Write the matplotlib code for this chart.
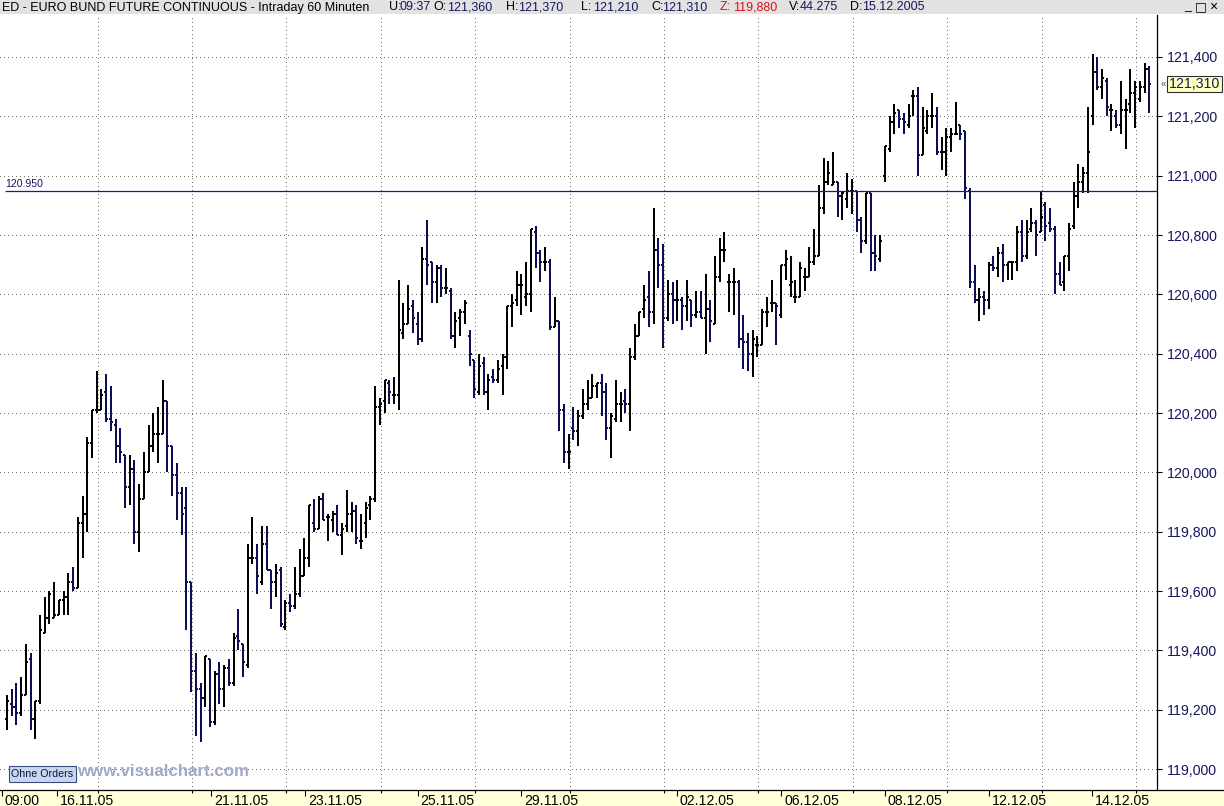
import matplotlib
matplotlib.use("Agg")
import matplotlib.pyplot as plt
from matplotlib.collections import LineCollection
from matplotlib.patches import Rectangle
from matplotlib.lines import Line2D
import numpy as np

plt.rcParams['font.family'] = ['Liberation Sans', 'DejaVu Sans']

# --- OHLC, one bar per hour ---
highs = [
    119.25, 119.27, 119.29, 119.31, 119.42, 119.39, 119.23, 119.52, 119.58, 119.60,
    119.63, 119.57, 119.60, 119.66, 119.68, 119.85, 119.92, 120.12, 120.21, 120.34,
    120.28, 120.33, 120.29, 120.18, 120.15, 120.06, 120.06, 120.04, 119.96, 120.07,
    120.16, 120.20, 120.22, 120.31, 120.24, 120.09, 120.03, 119.95, 119.95, 119.63,
    119.39, 119.29, 119.38, 119.37, 119.33, 119.36, 119.35, 119.37, 119.46, 119.54,
    119.42, 119.76, 119.85, 119.76, 119.82, 119.82, 119.67, 119.69, 119.68, 119.57,
    119.59, 119.68, 119.74, 119.78, 119.89, 119.91, 119.92, 119.93, 119.86, 119.87,
    119.89, 119.83, 119.94, 119.90, 119.89, 119.86, 119.90, 119.92, 120.29, 120.25,
    120.31, 120.31, 120.32, 120.65, 120.57, 120.63, 120.58, 120.54, 120.76, 120.85,
    120.71, 120.70, 120.70, 120.69, 120.62, 120.54, 120.55, 120.58, 120.48, 120.38,
    120.40, 120.39, 120.33, 120.35, 120.38, 120.40, 120.56, 120.60, 120.68, 120.67,
    120.71, 120.82, 120.83, 120.75, 120.76, 120.72, 120.59, 120.51, 120.23, 120.13,
    120.22, 120.21, 120.28, 120.31, 120.33, 120.30, 120.33, 120.30, 120.20, 120.31,
    120.27, 120.28, 120.42, 120.50, 120.54, 120.63, 120.68, 120.89, 120.79, 120.77,
    120.65, 120.64, 120.65, 120.59, 120.65, 120.58, 120.61, 120.61, 120.67, 120.58,
    120.73, 120.79, 120.81, 120.67, 120.69, 120.65, 120.53, 120.47, 120.48, 120.46,
    120.55, 120.59, 120.65, 120.57, 120.70, 120.75, 120.73, 120.65, 120.71, 120.69,
    120.76, 120.82, 120.97, 121.06, 121.05, 121.08, 120.98, 120.95, 121.01, 120.99,
    120.95, 120.86, 120.94, 120.94, 120.80, 120.80, 121.10, 121.20, 121.24, 121.22,
    121.21, 121.24, 121.29, 121.30, 121.23, 121.22, 121.28, 121.23, 121.13, 121.16,
    121.16, 121.25, 121.17, 121.15, 120.96, 120.70, 120.62, 120.61, 120.71, 120.73,
    120.76, 120.77, 120.71, 120.71, 120.83, 120.85, 120.85, 120.89, 120.85, 120.95,
    120.91, 120.89, 120.83, 120.71, 120.73, 120.84, 120.98, 121.04, 121.03, 121.23,
    121.41, 121.40, 121.36, 121.33, 121.24, 121.22, 121.32, 121.26, 121.36, 121.32,
    121.32, 121.38, 121.37,
]
lows = [
    119.13, 119.18, 119.15, 119.18, 119.25, 119.13, 119.10, 119.22, 119.46, 119.49,
    119.51, 119.52, 119.52, 119.52, 119.60, 119.61, 119.71, 119.80, 120.05, 120.20,
    120.21, 120.17, 120.14, 120.03, 120.03, 119.88, 119.89, 119.76, 119.73, 119.91,
    120.00, 120.07, 120.03, 120.13, 120.00, 119.92, 119.84, 119.79, 119.47, 119.26,
    119.11, 119.09, 119.21, 119.14, 119.15, 119.22, 119.21, 119.28, 119.28, 119.40,
    119.31, 119.34, 119.69, 119.59, 119.62, 119.67, 119.54, 119.58, 119.48, 119.47,
    119.53, 119.54, 119.58, 119.65, 119.68, 119.80, 119.81, 119.84, 119.77, 119.80,
    119.79, 119.72, 119.80, 119.80, 119.76, 119.74, 119.78, 119.84, 119.90, 120.16,
    120.20, 120.23, 120.23, 120.21, 120.45, 120.50, 120.47, 120.43, 120.44, 120.63,
    120.57, 120.57, 120.59, 120.60, 120.45, 120.42, 120.46, 120.50, 120.36, 120.25,
    120.26, 120.26, 120.21, 120.30, 120.30, 120.26, 120.35, 120.49, 120.56, 120.53,
    120.56, 120.54, 120.69, 120.64, 120.68, 120.48, 120.49, 120.14, 120.03, 120.01,
    120.11, 120.09, 120.18, 120.21, 120.25, 120.25, 120.19, 120.11, 120.05, 120.17,
    120.17, 120.20, 120.14, 120.38, 120.46, 120.52, 120.49, 120.50, 120.62, 120.42,
    120.51, 120.50, 120.51, 120.48, 120.51, 120.49, 120.52, 120.52, 120.40, 120.44,
    120.50, 120.64, 120.71, 120.54, 120.53, 120.42, 120.35, 120.34, 120.32, 120.39,
    120.43, 120.49, 120.54, 120.43, 120.52, 120.65, 120.59, 120.57, 120.59, 120.61,
    120.66, 120.70, 120.73, 120.87, 120.97, 120.97, 120.86, 120.85, 120.89, 120.87,
    120.81, 120.74, 120.77, 120.68, 120.68, 120.71, 120.98, 121.08, 121.14, 121.16,
    121.14, 121.16, 121.20, 121.00, 121.07, 121.14, 121.16, 121.07, 121.02, 121.00,
    121.08, 121.14, 121.12, 120.92, 120.62, 120.57, 120.51, 120.53, 120.55, 120.68,
    120.66, 120.64, 120.65, 120.65, 120.68, 120.71, 120.72, 120.81, 120.73, 120.81,
    120.78, 120.81, 120.60, 120.63, 120.61, 120.68, 120.82, 120.89, 120.94, 120.94,
    121.17, 121.29, 121.26, 121.20, 121.15, 121.16, 121.14, 121.09, 121.21, 121.16,
    121.25, 121.28, 121.21,
]
opens = [
    119.17, 119.22, 119.21, 119.19, 119.25, 119.37, 119.17, 119.23, 119.46, 119.51,
    119.51, 119.52, 119.57, 119.58, 119.63, 119.61, 119.83, 119.86, 120.10, 120.21,
    120.21, 120.27, 120.18, 120.16, 120.09, 120.06, 119.95, 120.01, 119.80, 119.91,
    120.00, 120.09, 120.13, 120.13, 120.24, 120.09, 119.99, 119.93, 119.88, 119.63,
    119.33, 119.27, 119.24, 119.37, 119.16, 119.32, 119.27, 119.34, 119.29, 119.45,
    119.42, 119.35, 119.71, 119.71, 119.63, 119.76, 119.67, 119.63, 119.67, 119.48,
    119.56, 119.55, 119.59, 119.65, 119.71, 119.83, 119.81, 119.91, 119.85, 119.84,
    119.86, 119.79, 119.82, 119.86, 119.87, 119.77, 119.83, 119.89, 119.91, 120.22,
    120.24, 120.30, 120.26, 120.26, 120.47, 120.50, 120.56, 120.50, 120.45, 120.72,
    120.71, 120.64, 120.69, 120.62, 120.61, 120.46, 120.52, 120.54, 120.46, 120.38,
    120.27, 120.37, 120.27, 120.32, 120.31, 120.36, 120.39, 120.56, 120.58, 120.63,
    120.59, 120.60, 120.81, 120.74, 120.71, 120.71, 120.49, 120.51, 120.21, 120.07,
    120.15, 120.14, 120.19, 120.23, 120.25, 120.29, 120.30, 120.27, 120.15, 120.18,
    120.23, 120.24, 120.23, 120.39, 120.46, 120.55, 120.59, 120.54, 120.75, 120.70,
    120.52, 120.60, 120.58, 120.58, 120.56, 120.58, 120.53, 120.54, 120.52, 120.55,
    120.50, 120.66, 120.75, 120.64, 120.64, 120.64, 120.45, 120.44, 120.40, 120.43,
    120.43, 120.54, 120.57, 120.57, 120.53, 120.70, 120.63, 120.59, 120.59, 120.66,
    120.66, 120.71, 120.73, 120.89, 120.98, 120.97, 120.98, 120.93, 120.92, 120.95,
    120.95, 120.85, 120.78, 120.94, 120.74, 120.72, 121.00, 121.09, 121.18, 121.22,
    121.19, 121.17, 121.27, 121.27, 121.07, 121.15, 121.20, 121.20, 121.08, 121.08,
    121.13, 121.14, 121.17, 121.15, 120.95, 120.64, 120.58, 120.59, 120.58, 120.70,
    120.69, 120.74, 120.70, 120.71, 120.71, 120.81, 120.73, 120.82, 120.84, 120.81,
    120.90, 120.84, 120.82, 120.67, 120.64, 120.73, 120.83, 120.93, 120.98, 121.01,
    121.20, 121.35, 121.30, 121.32, 121.22, 121.20, 121.17, 121.22, 121.24, 121.28,
    121.26, 121.30, 121.36,
]
closes = [
    119.23, 119.21, 119.19, 119.25, 119.36, 119.17, 119.23, 119.47, 119.51, 119.59,
    119.52, 119.57, 119.58, 119.63, 119.61, 119.83, 119.86, 120.10, 120.21, 120.21,
    120.26, 120.18, 120.17, 120.09, 120.07, 119.95, 120.01, 119.80, 119.91, 120.00,
    120.09, 120.13, 120.13, 120.24, 120.09, 119.99, 119.93, 119.86, 119.63, 119.33,
    119.27, 119.24, 119.38, 119.16, 119.32, 119.27, 119.34, 119.29, 119.44, 119.43,
    119.36, 119.71, 119.71, 119.65, 119.76, 119.67, 119.63, 119.66, 119.49, 119.56,
    119.55, 119.59, 119.65, 119.71, 119.89, 119.81, 119.91, 119.84, 119.85, 119.86,
    119.79, 119.81, 119.86, 119.87, 119.78, 119.77, 119.88, 119.91, 120.22, 120.23,
    120.31, 120.27, 120.26, 120.48, 120.50, 120.55, 120.52, 120.45, 120.72, 120.70,
    120.64, 120.69, 120.62, 120.62, 120.46, 120.51, 120.54, 120.57, 120.40, 120.28,
    120.36, 120.27, 120.31, 120.31, 120.35, 120.39, 120.56, 120.57, 120.63, 120.63,
    120.60, 120.82, 120.74, 120.71, 120.71, 120.49, 120.51, 120.21, 120.07, 120.07,
    120.14, 120.19, 120.23, 120.25, 120.29, 120.30, 120.27, 120.15, 120.19, 120.23,
    120.23, 120.23, 120.39, 120.46, 120.54, 120.58, 120.54, 120.75, 120.70, 120.52,
    120.60, 120.58, 120.58, 120.56, 120.59, 120.53, 120.54, 120.52, 120.55, 120.51,
    120.66, 120.75, 120.75, 120.64, 120.64, 120.45, 120.44, 120.40, 120.45, 120.43,
    120.54, 120.54, 120.57, 120.56, 120.70, 120.72, 120.64, 120.59, 120.69, 120.66,
    120.71, 120.73, 120.89, 120.98, 121.01, 120.98, 120.93, 120.94, 120.95, 120.95,
    120.85, 120.78, 120.94, 120.74, 120.73, 120.78, 121.10, 121.18, 121.21, 121.19,
    121.18, 121.20, 121.27, 121.07, 121.16, 121.20, 121.20, 121.08, 121.08, 121.13,
    121.14, 121.14, 121.14, 120.96, 120.64, 120.58, 120.59, 120.58, 120.70, 120.69,
    120.74, 120.70, 120.71, 120.71, 120.81, 120.73, 120.81, 120.84, 120.80, 120.86,
    120.83, 120.82, 120.67, 120.63, 120.73, 120.82, 120.93, 120.98, 121.01, 121.08,
    121.35, 121.30, 121.33, 121.23, 121.22, 121.17, 121.22, 121.22, 121.28, 121.30,
    121.30, 121.36, 121.31,
]

# x-axis: bar index where each date label starts, and the labels
date_pos = [-1.06, 10.5, 43.2, 63.2, 87.0, 109.0, 141.9, 164.0, 186.0, 208.0, 229.9]
date_labels = ['09:00', '16.11.05', '21.11.05', '23.11.05', '25.11.05', '29.11.05',
               '02.12.05', '06.12.05', '08.12.05', '12.12.05', '14.12.05']
grid_x = [19.2 + 20 * k for k in range(12)]
price_ticks = [119.0, 119.2, 119.4, 119.6, 119.8, 120.0, 120.2, 120.4, 120.6, 120.8,
               121.0, 121.2, 121.4]
level_line = 120.95
last_close = 121.31

header = [
    ('ED - EURO BUND FUTURE CONTINUOUS - Intraday 60 Minuten', 'k', 2),
    ('U:', 'k', 389), ('09:37', 'n', 400),
    ('O:', 'k', 433), ('121,360', 'n', 447),
    ('H:', 'k', 506), ('121,370', 'n', 518),
    ('L:', 'k', 581), ('121,210', 'n', 593),
    ('C:', 'k', 651), ('121,310', 'n', 662),
    ('Z:', 'r', 720), ('119,880', 'r', 733),
    ('V:', 'k', 789), ('44.275', 'n', 800),
    ('D:', 'k', 850), ('15.12.2005', 'n', 862),
]

NAVY = '#161660'
BAR_DOWN = '#0e0e52'
W, H = 1224, 806
PX_BAR = 4.72       # pixels per bar
X0 = 7              # pixel x of the first bar
PX_UNIT = 296.67    # pixels per 1.0 of price
Y_REF = 57          # pixel y of 121.4

fig = plt.figure(figsize=(W / 100, H / 100), dpi=100, facecolor='white')
T = fig.dpi_scale_trans


def P(x, y):
    # pixel (from top-left) -> inches for dpi_scale_trans
    return x / 100, (H - y) / 100


def price_at(py):
    return 121.4 - (py - Y_REF) / PX_UNIT


top, bottom, right = 15, 790, 1157
ax = fig.add_axes([0, (H - bottom) / H, right / W, (bottom - top) / H])
ax.set_xlim(-X0 / PX_BAR, (right - X0) / PX_BAR)
ax.set_ylim(price_at(bottom), price_at(top))
ax.set_facecolor('white')

# dotted grid
for gy in price_ticks:
    ax.axhline(gy, color='#707070', lw=0.72, ls=(0, (1, 3)), antialiased=False, zorder=1)
for gx in grid_x:
    ax.axvline(gx, color='#707070', lw=0.72, ls=(0, (1, 3)), antialiased=False, zorder=1)

# OHLC bars
o = np.array(opens); c = np.array(closes)
hi = np.array(highs); lo = np.array(lows)
segs, cols = [], []
for i in range(len(hi)):
    col = 'black' if c[i] >= o[i] else BAR_DOWN
    segs += [[(i, lo[i]), (i, hi[i])],
             [(i - 0.42, o[i]), (i, o[i])],
             [(i, c[i]), (i + 0.42, c[i])]]
    cols += [col] * 3
ax.add_collection(LineCollection(segs, colors=cols, linewidths=1.1,
                                 antialiased=False, zorder=3))

# horizontal level line
lx0 = (5 - X0) / PX_BAR
ax.hlines(level_line, lx0, ax.get_xlim()[1], color='#1c1c88', lw=0.9, zorder=4)
ax.annotate('120.950', xy=(lx0, level_line), xytext=(0, 2), textcoords='offset pixels',
            ha='left', va='bottom', fontsize=7.6, color=NAVY)

# axes styling
for s in ['top', 'left']:
    ax.spines[s].set_visible(False)
ax.spines['right'].set_color('black')
ax.spines['right'].set_linewidth(0.9)
ax.spines['bottom'].set_visible(False)

ax.yaxis.tick_right()
ax.set_yticks(price_ticks)
ax.set_yticklabels([f'{v:.3f}'.replace('.', ',') for v in price_ticks])
ax.tick_params(axis='y', length=3.6, width=0.8, pad=3.4, labelsize=10.2,
               labelcolor=NAVY, color='black')

ax.set_xticks(date_pos)
ax.set_xticklabels([])
ax.set_xticks(grid_x, minor=True)
ax.tick_params(axis='x', which='major', length=4.6, width=0.8, color='black', direction='out')
ax.tick_params(axis='x', which='minor', length=2.4, width=0.8, color='black', direction='out')
for pos, lab in zip(date_pos, date_labels):
    ax.annotate(lab, xy=(pos, 0), xycoords=('data', 'axes fraction'),
                xytext=(3, -4), textcoords='offset pixels', ha='left', va='top',
                fontsize=10.2, color='black', annotation_clip=False)

# header band
fig.add_artist(Rectangle(P(0, 14), W / 100, 14 / 100, transform=T,
                         facecolor='#e2e2e2', edgecolor='none', zorder=0))
cmap = {'k': 'black', 'n': NAVY, 'r': '#e01010'}
for s, cc, xp in header:
    fig.text(*P(xp, 7.5), s, transform=T, fontsize=9.0, color=cmap[cc],
             ha='left', va='center')
fig.text(*P(1188, 6), '_', transform=T, fontsize=9, ha='center', va='center')
fig.text(*P(1201, 7), '\u25a1', transform=T, fontsize=9, ha='center', va='center',
         family=['DejaVu Sans'])
fig.text(*P(1213, 7), '\u00d7', transform=T, fontsize=10, ha='center', va='center')

# bottom date band and its top border
fig.add_artist(Rectangle(P(0, H), W / 100, (H - bottom) / 100, transform=T,
                         facecolor='#ffffd8', edgecolor='none', zorder=0))
fig.add_artist(Line2D([0, W / 100], [(H - bottom) / 100] * 2, transform=T,
                      color='black', lw=0.9, zorder=5))

# last price tag
fig.add_artist(Rectangle(P(1167, 92), 55 / 100, 16 / 100, transform=T,
                         facecolor='#ffffc0', edgecolor='#303030', lw=0.8, zorder=6))
fig.text(*P(1194.5, 84.5), f'{last_close:.3f}'.replace('.', ','), transform=T,
         fontsize=10.2, color=NAVY, ha='center', va='center', zorder=7)
fig.text(*P(1163, 84), '\u00ab', transform=T, fontsize=7, color='#505050',
         ha='center', va='center')

# watermark and order box
fig.add_artist(Rectangle(P(9, 782), 67 / 100, 16 / 100, transform=T,
                         facecolor='#c9d7ee', edgecolor='#3c4c80', lw=0.8, zorder=6))
fig.text(*P(42.5, 774), 'Ohne Orders', transform=T, fontsize=7.7, color='#101040',
         ha='center', va='center', zorder=7)
fig.text(*P(77, 771), 'www.visualchart.com', transform=T, fontsize=12.2,
         fontweight='bold', color='#a2a9c8', ha='left', va='center', zorder=7)

fig.savefig('out.png', dpi=100, facecolor='white')
